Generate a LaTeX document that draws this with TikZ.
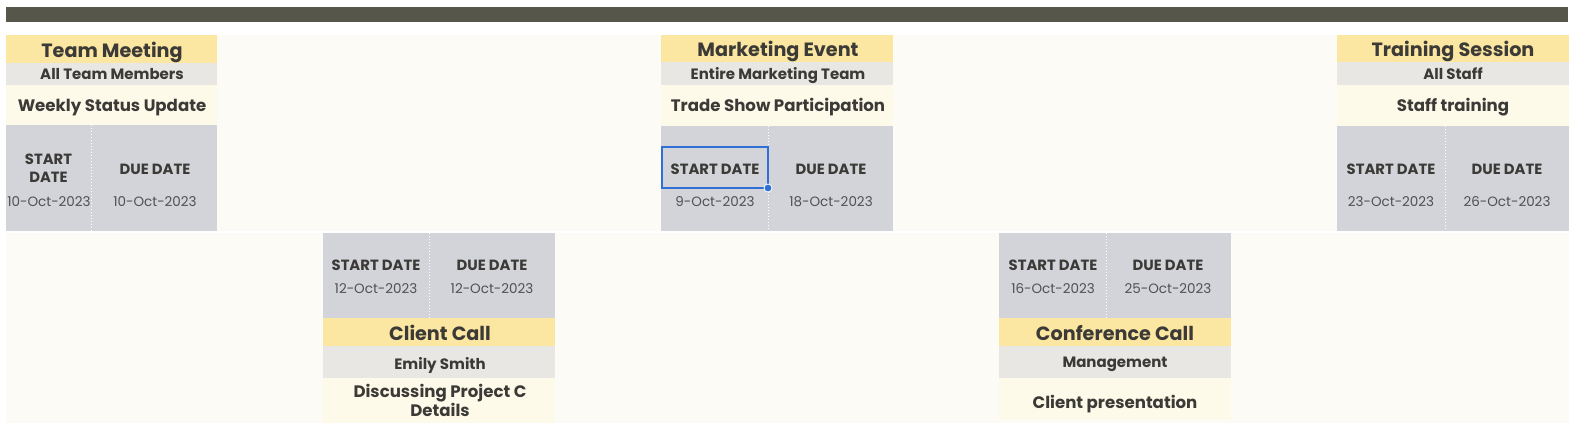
\documentclass[tikz,border=0pt]{standalone}
\usepackage{fontspec}
\setmainfont{Poppins}
\definecolor{barc}{HTML}{57564B}
\definecolor{ttlc}{HTML}{FBE6A2}
\definecolor{subc}{HTML}{E8E7E4}
\definecolor{descc}{HTML}{FEFAEA}
\definecolor{datec}{HTML}{D2D4DA}
\definecolor{bgc}{HTML}{FCFBF5}
\definecolor{ink}{HTML}{3B3A36}
\definecolor{dink}{HTML}{505050}
\definecolor{selc}{HTML}{2F6FD6}
\tikzset{
  cell/.style={inner sep=0pt, outer sep=0pt, anchor=north west, draw=none},
  ttl/.style={font=\bfseries\fontsize{19.2}{22}\selectfont, text=ink, inner sep=0pt, anchor=base},
  sub/.style={font=\bfseries\fontsize{15}{18}\selectfont, text=ink, inner sep=0pt, anchor=base},
  desc/.style={font=\bfseries\fontsize{16.6}{19.4}\selectfont, text=ink, inner sep=0pt, align=center, anchor=base},
  lbl/.style={font=\bfseries\fontsize{14.8}{18.7}\selectfont, text=ink, inner sep=0pt, align=center, anchor=base},
  dt/.style={font=\fontsize{13.5}{16}\selectfont, text=dink, inner sep=0pt, anchor=base},
  divline/.style={draw=white, line width=1pt, dotted},
}
\begin{document}
\begin{tikzpicture}[x=1pt, y=-1pt]
\useasboundingbox[fill=white] (0,0) rectangle (1588,442);
% top bar
\node[cell, fill=barc, minimum width=1562pt, minimum height=15pt] (bar) at (6,7) {};
% background
\node[cell, fill=bgc, minimum width=1563pt, minimum height=196pt] (bgtop) at (6,35) {};
\node[cell, fill=bgc, minimum width=1563pt, minimum height=190pt] (bgbot) at (6,233) {};

% ---------- Team Meeting ----------
\node[cell, fill=ttlc, minimum width=211pt, minimum height=28pt] (c1t) at (6,35) {};
\node[cell, fill=subc, minimum width=211pt, minimum height=22pt] (c1s) at (6,63) {};
\node[cell, fill=descc, minimum width=211pt, minimum height=40pt] (c1d) at (6,85) {};
\node[cell, fill=datec, minimum width=211pt, minimum height=106pt] (c1dt) at (6,125) {};
\coordinate (c1a) at (91,125); \coordinate (c1b) at (91,231);
\draw[divline] (c1a) -- (c1b);
\node[ttl] (c1tt) at (112,57.3) {Team Meeting};
\node[sub] (c1st) at (112,79.3) {All Team Members};
\node[desc] (c1dd) at (112,111.7) {Weekly Status Update};
\node[lbl] (c1sl) at (48.5,164) {START};
\node[lbl] (c1sl2) at (48.5,182.7) {DATE};
\node[lbl] (c1dl) at (155,174.3) {DUE DATE};
\node[dt] (c1sv) at (49,206.7) {10-Oct-2023};
\node[dt] (c1dv) at (155,206.7) {10-Oct-2023};

% ---------- Marketing Event ----------
\node[cell, fill=ttlc, minimum width=232pt, minimum height=27pt] (c2t) at (661,35) {};
\node[cell, fill=subc, minimum width=232pt, minimum height=23pt] (c2s) at (661,62) {};
\node[cell, fill=descc, minimum width=232pt, minimum height=41pt] (c2d) at (661,85) {};
\node[cell, fill=datec, minimum width=232pt, minimum height=105pt] (c2dt) at (661,126) {};
\coordinate (c2a) at (768,126); \coordinate (c2b) at (768,231);
\draw[divline] (c2a) -- (c2b);
\node[ttl] (c2tt) at (778,56.7) {Marketing Event};
\node[sub] (c2st) at (778,79.3) {Entire Marketing Team};
\node[desc] (c2dd) at (778,111.7) {Trade Show Participation};
\node[lbl] (c2sl) at (715,174) {START DATE};
\node[lbl] (c2dl) at (831,174) {DUE DATE};
\node[dt] (c2sv) at (715,206.7) {9-Oct-2023};
\node[dt] (c2dv) at (831,206.7) {18-Oct-2023};
\node[cell, draw=selc, line width=1.2pt, minimum width=106pt, minimum height=41pt] (sel) at (662,147) {};
\node[circle, fill=selc, draw=white, line width=0.8pt, minimum size=8pt, inner sep=0pt] (handle) at (sel.south east) {};

% ---------- Training Session ----------
\node[cell, fill=ttlc, minimum width=232pt, minimum height=27pt] (c3t) at (1337,35) {};
\node[cell, fill=subc, minimum width=232pt, minimum height=23pt] (c3s) at (1337,62) {};
\node[cell, fill=descc, minimum width=232pt, minimum height=41pt] (c3d) at (1337,85) {};
\node[cell, fill=datec, minimum width=232pt, minimum height=105pt] (c3dt) at (1337,126) {};
\coordinate (c3a) at (1445,126); \coordinate (c3b) at (1445,231);
\draw[divline] (c3a) -- (c3b);
\node[ttl] (c3tt) at (1453,56.7) {Training Session};
\node[sub] (c3st) at (1453,79.3) {All Staff};
\node[desc] (c3dd) at (1453,111.7) {Staff training};
\node[lbl] (c3sl) at (1391,174) {START DATE};
\node[lbl] (c3dl) at (1507,174) {DUE DATE};
\node[dt] (c3sv) at (1391,206.7) {23-Oct-2023};
\node[dt] (c3dv) at (1507,206.7) {26-Oct-2023};

% ---------- Client Call ----------
\node[cell, fill=datec, minimum width=232pt, minimum height=85pt] (c4dt) at (323,233) {};
\node[cell, fill=ttlc, minimum width=232pt, minimum height=28pt] (c4t) at (323,318) {};
\node[cell, fill=subc, minimum width=232pt, minimum height=32pt] (c4s) at (323,346) {};
\node[cell, fill=descc, minimum width=232pt, minimum height=45pt] (c4d) at (323,378) {};
\coordinate (c4a) at (429,233); \coordinate (c4b) at (429,318);
\draw[divline] (c4a) -- (c4b);
\node[lbl] (c4sl) at (376,270) {START DATE};
\node[lbl] (c4dl) at (492,270) {DUE DATE};
\node[dt] (c4sv) at (376,293.3) {12-Oct-2023};
\node[dt] (c4dv) at (492,293.3) {12-Oct-2023};
\node[ttl] (c4tt) at (440,340) {Client Call};
\node[sub] (c4st) at (440,369) {Emily Smith};
\node[desc] (c4dd) at (440,397.3) {Discussing Project C};
\node[desc] (c4dd2) at (440,416.7) {Details};

% ---------- Conference Call ----------
\node[cell, fill=datec, minimum width=232pt, minimum height=85pt] (c5dt) at (999,233) {};
\node[cell, fill=ttlc, minimum width=232pt, minimum height=28pt] (c5t) at (999,318) {};
\node[cell, fill=subc, minimum width=232pt, minimum height=32pt] (c5s) at (999,346) {};
\node[cell, fill=descc, minimum width=232pt, minimum height=42pt] (c5d) at (999,378) {};
\coordinate (c5a) at (1106,233); \coordinate (c5b) at (1106,318);
\draw[divline] (c5a) -- (c5b);
\node[lbl] (c5sl) at (1053,270) {START DATE};
\node[lbl] (c5dl) at (1168,270) {DUE DATE};
\node[dt] (c5sv) at (1053,293.3) {16-Oct-2023};
\node[dt] (c5dv) at (1168,293.3) {25-Oct-2023};
\node[ttl] (c5tt) at (1115,340) {Conference Call};
\node[sub] (c5st) at (1115,367) {Management};
\node[desc] (c5dd) at (1115,408.3) {Client presentation};
\end{tikzpicture}
\end{document}
